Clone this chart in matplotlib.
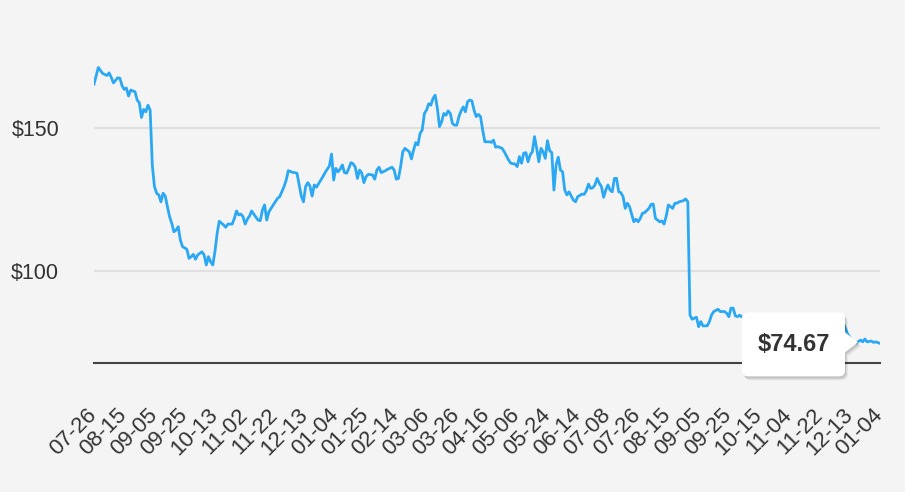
import matplotlib
matplotlib.use("Agg")
import matplotlib.pyplot as plt
from matplotlib.patches import FancyBboxPatch, Polygon
from matplotlib.transforms import IdentityTransform, ScaledTranslation

# trading day number (0 = first 07-26) and closing price
trade_day = [
    0, 2, 4, 6, 7, 8, 9, 11, 12, 13,
    14, 15, 16, 17, 19, 20, 21, 22, 23, 24,
    25, 26, 27, 28, 29, 30, 31, 32, 33, 34,
    35, 36, 37, 38, 39, 40, 41, 43, 44, 45,
    46, 47, 48, 50, 51, 52, 53, 54, 55, 56,
    57, 58, 60, 61, 62, 64, 65, 66, 67, 68,
    69, 70, 71, 72, 73, 75, 76, 77, 78, 79,
    80, 81, 83, 85, 86, 88, 89, 90, 92, 93,
    94, 95, 96, 97, 98, 99, 100, 101, 102, 103,
    105, 106, 107, 108, 109, 110, 111, 112, 113, 114,
    115, 116, 117, 118, 119, 120, 121, 122, 123, 124,
    125, 126, 127, 129, 130, 131, 132, 133, 135, 136,
    137, 138, 139, 140, 141, 142, 143, 144, 146, 147,
    148, 149, 150, 151, 152, 153, 154, 155, 156, 157,
    158, 159, 160, 161, 162, 163, 164, 165, 166, 167,
    168, 169, 170, 171, 172, 173, 174, 175, 176, 177,
    178, 179, 180, 181, 183, 184, 185, 186, 187, 189,
    190, 192, 193, 195, 196, 197, 198, 199, 200, 201,
    202, 203, 204, 205, 206, 207, 208, 209, 210, 211,
    212, 213, 214, 215, 216, 217, 218, 219, 220, 221,
    222, 223, 224, 226, 227, 228, 229, 230, 231, 232,
    233, 234, 235, 236, 237, 238, 239, 240, 241, 242,
    243, 244, 245, 246, 247, 248, 250, 251, 252, 253,
    254, 255, 257, 258, 259, 260, 261, 262, 263, 264,
    265, 266, 267, 268, 269, 270, 271, 273, 274, 275,
    276, 277, 278, 279, 280, 281, 282, 284, 285, 286,
    287, 289, 290, 292, 293, 294, 295, 296, 297, 298,
    299, 302, 305, 308, 311, 314, 317, 320, 323, 326,
    329, 332, 335, 338, 341, 344, 346, 348, 349, 351,
    353, 355, 356, 357, 358, 360, 361, 362, 364,
]
price = [
    165.4, 171.2, 169.1, 168.4, 169.3, 167.7, 165.8, 167.6, 167.4, 164.8,
    163.5, 164.0, 161.2, 163.3, 162.7, 159.8, 158.8, 153.7, 156.5, 155.7,
    158.0, 156.3, 137.0, 129.5, 127.2, 126.6, 124.2, 127.2, 126.2, 122.5,
    119.0, 116.7, 113.7, 114.3, 115.5, 110.8, 108.5, 107.6, 104.4, 105.0,
    105.8, 104.1, 105.6, 106.7, 105.6, 102.1, 105.0, 103.2, 102.1, 106.7,
    113.0, 117.4, 116.1, 115.3, 116.4, 116.4, 118.4, 121.0, 119.6, 119.9,
    119.0, 116.4, 118.1, 119.2, 121.0, 118.8, 117.8, 117.6, 121.3, 123.1,
    117.8, 120.7, 123.1, 125.4, 126.0, 129.5, 131.8, 135.1, 134.5, 134.4,
    134.2, 130.1, 126.2, 124.2, 129.5, 130.9, 129.7, 126.2, 130.1, 129.3,
    131.8, 133.0, 134.4, 135.6, 136.7, 140.9, 131.8, 135.9, 134.7, 135.6,
    137.1, 134.4, 134.2, 135.9, 137.9, 137.5, 136.3, 132.4, 135.3, 134.2,
    130.9, 133.0, 133.8, 133.6, 132.1, 135.3, 136.3, 134.4, 135.1, 135.6,
    135.9, 136.3, 135.3, 132.1, 132.4, 136.5, 141.7, 142.9, 141.7, 139.2,
    142.3, 144.9, 144.1, 148.1, 149.3, 155.1, 156.3, 158.5, 158.0, 160.4,
    161.5, 157.0, 150.5, 152.2, 155.1, 154.5, 156.0, 155.1, 151.6, 151.0,
    151.0, 154.0, 156.0, 157.4, 155.7, 159.2, 159.8, 159.5, 156.3, 154.0,
    154.8, 154.0, 149.3, 145.2, 145.2, 145.0, 145.8, 143.3, 143.5, 142.9,
    141.7, 138.8, 137.7, 137.4, 136.5, 140.0, 137.7, 141.2, 141.4, 138.2,
    140.6, 141.7, 147.0, 142.9, 138.2, 142.9, 141.7, 139.4, 145.6, 142.1,
    141.4, 128.3, 137.1, 139.8, 135.3, 134.7, 128.3, 126.6, 127.7, 126.2,
    124.8, 124.2, 126.0, 126.9, 126.8, 128.1, 130.4, 128.9, 129.1, 130.1,
    132.4, 130.7, 129.5, 125.8, 128.3, 130.1, 128.3, 127.7, 132.4, 132.4,
    127.7, 127.4, 126.0, 121.9, 123.7, 122.5, 117.2, 118.1, 117.2, 118.4,
    120.2, 120.4, 121.9, 123.3, 123.4, 118.4, 117.8, 117.2, 117.5, 116.4,
    119.2, 123.1, 122.5, 121.9, 123.7, 123.7, 124.2, 124.6, 125.2, 124.2,
    84.6, 83.1, 83.5, 83.8, 80.5, 82.3, 80.8, 80.8, 82.3, 84.6,
    85.8, 86.6, 85.8, 85.8, 85.2, 84.0, 87.0, 87.0, 84.3, 84.0,
    84.5, 83.0, 82.0, 82.8, 81.5, 82.5, 83.2, 82.0, 81.0, 82.2,
    83.0, 82.0, 81.5, 82.8, 83.5, 84.2, 84.0, 80.0, 78.0, 75.5,
    74.8, 75.8, 75.2, 76.2, 75.2, 75.5, 75.0, 75.2, 74.67,
]
assert len(trade_day) == len(price)

tick_labels = ["07-26", "08-15", "09-05", "09-25", "10-13", "11-02", "11-22",
               "12-13", "01-04", "01-25", "02-14", "03-06", "03-26", "04-16",
               "05-06", "05-24", "06-14", "07-08", "07-26", "08-15", "09-05",
               "09-25", "10-15", "11-04", "11-22", "12-13", "01-04"]
tick_day = list(range(0, 365, 14))
grid_values = [100, 150]
last_label = "$74.67"

plt.rcParams["font.family"] = ["Liberation Sans", "DejaVu Sans"]
bg = "#f4f4f4"
text_col = "#333333"

fig = plt.figure(figsize=(9.05, 4.92), dpi=100, facecolor=bg)
ax = fig.add_axes([94 / 905, 129 / 492, 786 / 905, 363 / 492])
ax.set_facecolor(bg)

ax.plot(trade_day, price, color="#2ba8f3", lw=2.0, solid_joinstyle="round", zorder=3)
ax.set_xlim(0, 364)
ax.set_ylim(67.8, 194.8)

for v in grid_values:
    ax.axhline(v, color="#e0e0e0", lw=1.6, zorder=1)

for s in ["top", "right", "left"]:
    ax.spines[s].set_visible(False)
ax.spines["bottom"].set_color("#444444")
ax.spines["bottom"].set_linewidth(1.5)

ax.set_yticks(grid_values)
ax.set_yticklabels(["$%d" % v for v in grid_values])
ax.set_xticks(tick_day)
ax.set_xticklabels(tick_labels, rotation=45, ha="right", va="top")
ax.tick_params(axis="x", length=0, pad=30, labelsize=16, labelcolor=text_col)
ax.tick_params(axis="y", length=0, pad=25, labelsize=15.5, labelcolor=text_col)

# nudge the rotated date labels a little to the right
shift = ScaledTranslation(7 / 100, 0, fig.dpi_scale_trans)
for lab in ax.get_xticklabels():
    lab.set_transform(lab.get_transform() + shift)

# tooltip box next to the last point
px, py = ax.transData.transform((trade_day[-1], price[-1]))
x0, y0, w, h = px - 138, py - 33, 103, 64
tip = [(px - 22, py + 1), (px - 35, py + 11), (px - 35, py - 9)]

for dx, dy, a in [(3, -4, 0.05), (2, -3, 0.07), (1, -2, 0.09)]:
    fig.add_artist(FancyBboxPatch((x0 + dx, y0 + dy), w, h,
                                  boxstyle="round,pad=0,rounding_size=6",
                                  fc="black", ec="none", alpha=a,
                                  transform=IdentityTransform(), zorder=5))
    fig.add_artist(Polygon([(x + dx, y + dy) for x, y in tip], closed=True,
                           fc="black", ec="none", alpha=a,
                           transform=IdentityTransform(), zorder=5))

fig.add_artist(FancyBboxPatch((x0, y0), w, h, boxstyle="round,pad=0,rounding_size=6",
                              fc="white", ec="none", transform=IdentityTransform(), zorder=6))
fig.add_artist(Polygon(tip, closed=True, fc="white", ec="none",
                       transform=IdentityTransform(), zorder=6))
fig.text(px - 86, py - 1, last_label, transform=IdentityTransform(), ha="center",
         va="center", fontsize=17, fontweight="bold", color=text_col, zorder=7)

fig.savefig("out.png", dpi=100, facecolor=bg)
